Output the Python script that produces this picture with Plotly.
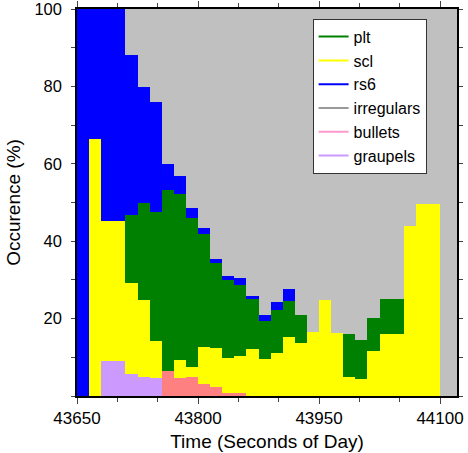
import plotly.graph_objects as go

bin_start = 43650
bin_width = 15
n_bins = 31

graupels = [0, 0, 9.1, 9.1, 5.7, 4.9, 4.7, 0, 0, 0, 0, 0, 0, 0, 0, 0,
            0, 0, 0, 0, 0, 0, 0, 0, 0, 0, 0, 0, 0, 0, 0]
bullets = [0, 0, 0, 0, 0, 0, 0, 6.5, 4.7, 5.0, 3.2, 2.4, 0.9, 0.9, 0, 0,
           0, 0, 0, 0, 0, 0, 0, 0, 0, 0, 0, 0, 0, 0, 0]
scl = [0, 66.5, 36.2, 36.2, 23.5, 19.9, 9.5, 0, 4.6, 2.5, 9.5, 10.0, 8.9, 9.4, 12.2, 9.6,
       11.1, 15.3, 13.7, 16.5, 24.8, 16.3, 4.9, 4.4, 11.6, 16.0, 16.0, 44.0, 49.7, 49.7, 0]
plt_ = [0, 0, 0, 0, 17.6, 25.1, 33.4, 46.8, 42.9, 38.5, 29.2, 22.0, 20.2, 18.4, 12.9, 9.8,
        11.1, 9.3, 7.2, 0, 0, 0, 11.1, 10.1, 8.6, 9.1, 9.1, 0, 0, 0, 0]
rs6 = [100, 33.5, 54.7, 54.7, 41.4, 30.0, 28.4, 6.7, 4.7, 2.6, 1.5, 1.0, 1.0, 1.8, 0.8, 1.5,
       2.1, 3.1, 0, 0, 0, 0, 0, 0, 0, 0, 0, 0, 0, 0, 0]
irregulars = [0, 0, 0, 0, 11.8, 20.1, 24.0, 40.0, 43.1, 51.4, 56.6, 64.6, 69.0, 69.5, 74.1, 79.1,
              75.7, 72.3, 79.1, 83.5, 75.2, 83.7, 84.0, 85.5, 79.8, 74.9, 74.9, 56.0, 50.3, 50.3, 100]

x_ticks = [43650, 43800, 43950, 44100]
y_ticks = [20, 40, 60, 80, 100]

x = [bin_start + bin_width * i + bin_width / 2 for i in range(n_bins)]

series = [
    ("graupels", graupels, "#cc99ff"),
    ("bullets", bullets, "#ff8080"),
    ("scl", scl, "#ffff00"),
    ("plt", plt_, "#008000"),
    ("rs6", rs6, "#0000ff"),
    ("irregulars", irregulars, "#c0c0c0"),
]

fig = go.Figure()
for name, vals, col in series:
    fig.add_trace(go.Bar(x=x, y=vals, width=bin_width, name=name, marker=dict(color=col, line=dict(width=0)),
                         showlegend=False))

legend_order = [("plt", "#008000"), ("scl", "#ffff00"), ("rs6", "#0000ff"),
                ("irregulars", "#999999"), ("bullets", "#ff99cc"), ("graupels", "#cc99ff")]
for name, col in legend_order:
    fig.add_trace(go.Scatter(x=[None], y=[None], mode="lines", name=name,
                             line=dict(color=col, width=2)))

font = "Arial"
fig.update_layout(
    width=468, height=453,
    margin=dict(l=77, r=11, t=9, b=57, autoexpand=False),
    barmode="stack", bargap=0,
    plot_bgcolor="#c0c0c0", paper_bgcolor="white",
    font=dict(family=font, size=17, color="black"),
    legend=dict(x=0.62, y=0.975, xanchor="left", yanchor="top",
                bgcolor="white", bordercolor="#333333", borderwidth=1,
                font=dict(size=16), traceorder="normal", itemwidth=30,
                tracegroupgap=0),
    xaxis=dict(range=[43650, 44121], tickvals=x_ticks, tickformat="d", ticks="outside", ticklen=6,
               automargin=False, ticklabeloverflow="allow",
               showgrid=False, zeroline=False, showline=True, linecolor="black", linewidth=1.5,
               mirror="ticks",
               minor=dict(dtick=50, tick0=43650, ticks="outside", ticklen=4, showgrid=False),
               title=dict(text="Time (Seconds of Day)", font=dict(size=19), standoff=8)),
    yaxis=dict(range=[0, 100], tickvals=y_ticks, ticks="outside", ticklen=4,
               automargin=False, ticklabeloverflow="allow", ticklabelstandoff=6,
               tickfont=dict(size=16.5),
               showgrid=False, zeroline=False, showline=True, linecolor="black", linewidth=1.5,
               mirror="ticks",
               minor=dict(dtick=10, tick0=0, ticks="outside", ticklen=4, showgrid=False),
               title=dict(text="Occurence (%)", font=dict(size=19), standoff=9)),
)

fig.write_html("out.html")
